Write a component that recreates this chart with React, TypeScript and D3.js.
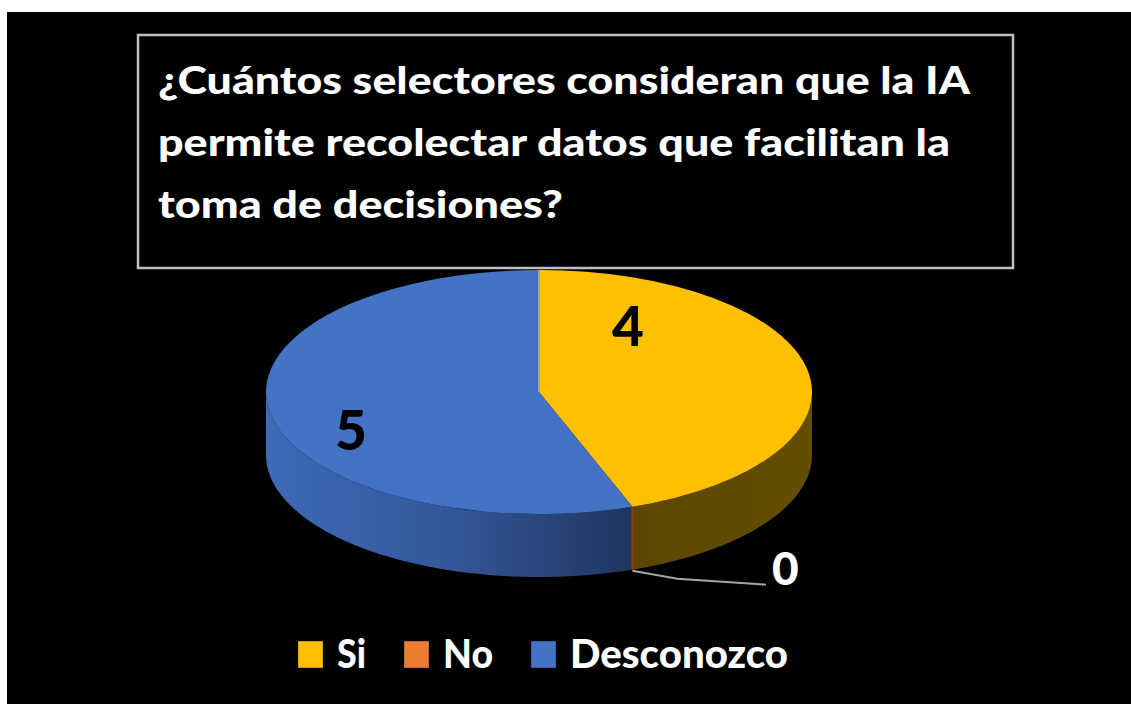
import * as d3 from "d3";

// chart data
const categories = ["Si", "No", "Desconozco"];
const values = [4, 0, 5];
const valueLabels = ["4", "0", "5"];
const titleLines = [
  "¿Cuántos selectores consideran que la IA",
  "permite recolectar datos que facilitan la",
  "toma de decisiones?",
];

const W = 1131;
const H = 704;
const topColors = ["#FFC000", "#ED7D31", "#4472C4"];
const FONT = "Lato, 'Open Sans', sans-serif";

// pie geometry
const cx = 539;
const cy = 392;
const rx = 273;
const ry = 122;
const depth = 63;

const pt = (a: number, dy = 0): [number, number] => [
  cx + rx * Math.sin(a),
  cy - ry * Math.cos(a) + dy,
];

const wallPath = (a0: number, a1: number) => {
  const s = Math.max(a0, Math.PI / 2);
  const e = Math.min(a1, (3 * Math.PI) / 2);
  if (e <= s) return null;
  const steps = d3.range(0, 61).map((i) => s + ((e - s) * i) / 60);
  const pts = [
    ...steps.map((a) => pt(a)),
    ...steps.slice().reverse().map((a) => pt(a, depth)),
  ];
  return d3.line()(pts) + "Z";
};

// label placement (offsets from pie center)
const labelOffsets: [number, number, string, number][] = [
  [89, -46, "middle", 55],
  [233, 193, "start", 46],
  [-188, 58, "middle", 55],
];

const titleWidths = [812, 792, 405];

const legendItems = [
  { sq: 298, tx: 337, tw: 29 },
  { sq: 404, tx: 443, tw: 50 },
  { sq: 531, tx: 570, tw: 218 },
];

export default function App() {
  const pie = d3.pie<number>().sort(null).value((d) => d)(values);
  const arc = d3.arc<d3.PieArcDatum<number>>().innerRadius(0).outerRadius(rx);
  const noSlice = pie[1];
  const leadStart = pt(noSlice.startAngle, depth);
  const labelX = cx + labelOffsets[1][0];

  return (
    <svg
      width={W}
      height={H}
      style={{ position: "absolute", left: 0, top: 0, display: "block", background: "#fff" }}
    >
      <defs>
        <linearGradient id="blueWall" gradientUnits="userSpaceOnUse" x1={cx - rx} x2={pt(pie[2].startAngle)[0]} y1={0} y2={0}>
          <stop offset="0" stopColor="#3f6ab8" />
          <stop offset="0.5" stopColor="#33579a" />
          <stop offset="1" stopColor="#1f355f" />
        </linearGradient>
        <linearGradient id="yellowWall" gradientUnits="userSpaceOnUse" x1={pt(pie[0].endAngle)[0]} x2={cx + rx} y1={0} y2={0}>
          <stop offset="0" stopColor="#5c4600" />
          <stop offset="1" stopColor="#654d00" />
        </linearGradient>
      </defs>
      <rect x={7} y={12} width={W - 7} height={H - 12} fill="#000" />

      {/* side walls */}
      {pie.map((d, i) => {
        const p = wallPath(d.startAngle, d.endAngle);
        if (!p) return null;
        return (
          <path key={"w" + i} d={p} fill={i === 0 ? "url(#yellowWall)" : i === 2 ? "url(#blueWall)" : topColors[i]} />
        );
      })}
      {/* zero slice edge */}
      <line
        x1={pt(noSlice.startAngle)[0]}
        y1={pt(noSlice.startAngle)[1]}
        x2={leadStart[0]}
        y2={leadStart[1]}
        stroke="#8a3d10"
        strokeWidth={2}
      />

      {/* top faces */}
      <g transform={`translate(${cx},${cy}) scale(1,${ry / rx})`}>
        {pie.map((d, i) =>
          d.value > 0 ? <path key={"t" + i} d={arc(d) || ""} fill={topColors[i]} /> : null
        )}
      </g>
      <line x1={cx} y1={cy} x2={pt(0)[0]} y2={pt(0)[1]} stroke="#a8a39a" strokeWidth={2} />

      {/* leader line for 0 */}
      <polyline
        points={`${leadStart[0]},${leadStart[1] + 1} ${leadStart[0] + 45},${leadStart[1] + 9} ${labelX - 6},${leadStart[1] + 15}`}
        fill="none"
        stroke="#a6a6a6"
        strokeWidth={2}
      />

      {/* value labels */}
      {pie.map((d, i) => {
        const [ox, oy, anchor, fs] = labelOffsets[i];
        return (
          <text
            key={"l" + i}
            x={cx + ox}
            y={cy + oy}
            textAnchor={anchor}
            fontFamily={FONT}
            fontWeight={900}
            fontSize={fs}
            fill={i === 1 ? "#fff" : "#000"}
          >
            {valueLabels[i]}
          </text>
        );
      })}

      {/* title box */}
      <rect x={138} y={35} width={875} height={233} fill="#000" stroke="#bfbfbf" strokeWidth={2.5} />
      {titleLines.map((t, i) => (
        <text
          key={"tt" + i}
          x={158}
          y={94 + i * 62}
          fontFamily={FONT}
          fontWeight={900}
          fontSize={37}
          fill="#fff"
          textLength={titleWidths[i]}
          lengthAdjust="spacingAndGlyphs"
        >
          {t}
        </text>
      ))}

      {/* legend */}
      {categories.map((c, i) => {
        const it = legendItems[i];
        return (
          <g key={"lg" + i}>
            <rect x={it.sq} y={641} width={25} height={27} fill={topColors[i]} stroke="#00000055" />
            <text
              x={it.tx}
              y={668}
              fontFamily={FONT}
              fontWeight={900}
              fontSize={40}
              fill="#fff"
              textLength={it.tw}
              lengthAdjust="spacingAndGlyphs"
            >
              {c}
            </text>
          </g>
        );
      })}
    </svg>
  );
}
